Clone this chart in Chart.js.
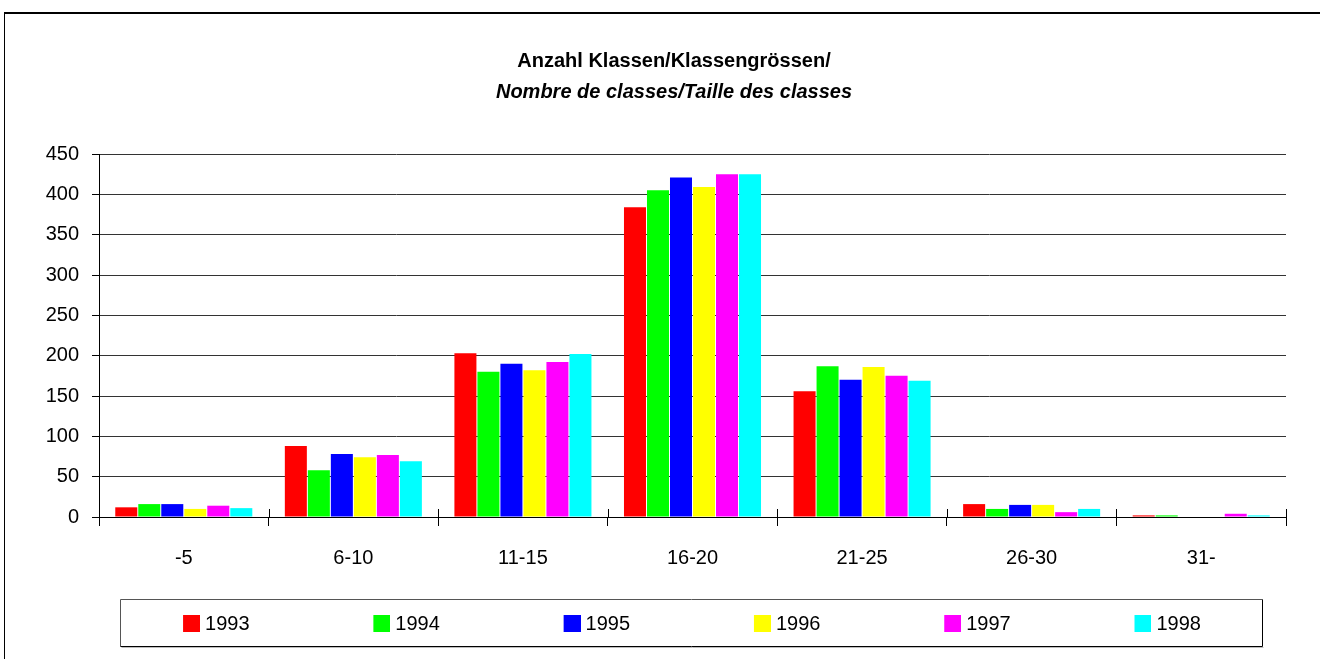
<!DOCTYPE html>
<html>
<head>
<meta charset="utf-8">
<script src="https://cdn.jsdelivr.net/npm/chart.js@4/dist/chart.umd.min.js"></script>
<style>
  html, body { margin: 0; padding: 0; background: #fff; overflow: hidden; }
  #wrap { position: relative; width: 1320px; height: 659px; }
  #frame { position: absolute; left: 4px; top: 12px; width: 1330px; height: 660px;
           border-top: 2px solid #000; border-left: 1px solid #000; box-sizing: border-box; }
  #c { position: absolute; left: 0; top: 0; }
</style>
</head>
<body>
<div id="wrap">
  <div id="frame"></div>
  <canvas id="c" width="1320" height="659"></canvas>
</div>
<script>
// ---- data ----
const categories = ['-5', '6-10', '11-15', '16-20', '21-25', '26-30', '31-'];
const seriesNames = ['1993', '1994', '1995', '1996', '1997', '1998'];
const v1993 = [12, 88, 203, 384, 156, 16, 2];
const v1994 = [16, 58, 180, 405, 187, 10, 2];
const v1995 = [16, 78, 190, 421, 170, 15, 0];
const v1996 = [10, 74, 182, 409, 186, 15, 0];
const v1997 = [14, 77, 192, 425, 175, 6, 4];
const v1998 = [11, 69, 202, 425, 169, 10, 2];
const seriesColors = ['#FF0000', '#00FF00', '#0000FF', '#FFFF00', '#FF00FF', '#00FFFF'];
const yMin = 0, yMax = 450, yStep = 50;
const titleLine1 = 'Anzahl Klassen/Klassengrössen/';
const titleLine2 = 'Nombre de classes/Taille des classes';

const FONT = "'Liberation Sans', Arial, Helvetica, sans-serif";
const seriesValues = [v1993, v1994, v1995, v1996, v1997, v1998];

const SW_W = 48; // legend pointStyleWidth
function makeSwatch(color) {
  const c = document.createElement('canvas');
  c.width = SW_W + 10; c.height = 18;
  const g = c.getContext('2d');
  g.fillStyle = color;
  g.fillRect(c.width - 17, 0, 17, 17);
  return c;
}
const swatches = seriesColors.map(makeSwatch);

const legendFrame = {
  id: 'legendFrame',
  afterDraw(chart) {
    const ctx = chart.ctx;
    // upward part of the x-axis category tick marks
    const xs = chart.scales.x;
    const n = chart.data.labels.length;
    ctx.save();
    ctx.lineWidth = 1;
    ctx.strokeStyle = '#000';
    for (let i = 0; i <= n; i++) {
      const px = Math.round(xs.left + i * (xs.width / n)) + 0.5;
      ctx.beginPath(); ctx.moveTo(px, xs.top - 8); ctx.lineTo(px, xs.top); ctx.stroke();
    }
    ctx.restore();

    const lg = chart.legend;
    if (!lg || !lg.legendHitBoxes || !lg.legendHitBoxes.length) return;
    const hb = lg.legendHitBoxes;
    const first = hb[0], last = hb[hb.length - 1];
    const l = Math.round(first.left - 27) + 0.5;
    const r = Math.round(last.left + last.width + 61) + 0.5;
    const t = Math.round(first.top - 15) + 0.5;
    const b = Math.round(first.top + 32) + 0.5;
    ctx.save();
    ctx.lineWidth = 1;
    ctx.strokeStyle = '#bdbdbd';
    ctx.beginPath(); ctx.moveTo(l + 1, b + 1); ctx.lineTo(r + 1, b + 1); ctx.stroke();
    ctx.strokeStyle = '#555';
    ctx.beginPath(); ctx.moveTo(l, b); ctx.lineTo(l, t); ctx.lineTo(r, t); ctx.stroke();
    ctx.strokeStyle = '#000';
    ctx.beginPath(); ctx.moveTo(r, t); ctx.lineTo(r, b); ctx.lineTo(l, b); ctx.stroke();
    ctx.restore();
  }
};

new Chart(document.getElementById('c'), {
  type: 'bar',
  data: {
    labels: categories,
    datasets: seriesNames.map((n, i) => ({
      label: n,
      data: seriesValues[i],
      backgroundColor: seriesColors[i],
      borderWidth: 0,
      categoryPercentage: 0.814,
      barPercentage: 0.957
    }))
  },
  options: {
    responsive: false,
    devicePixelRatio: 1,
    animation: false,
    layout: { padding: { left: 28, right: 0, top: 0, bottom: 15 } },
    plugins: {
      tooltip: { enabled: false },
      title: {
        display: true, text: titleLine1, color: '#000',
        font: { family: FONT, size: 20, weight: 'bold', lineHeight: 1.2 },
        padding: { top: 49, bottom: 0 }
      },
      subtitle: {
        display: true, text: titleLine2, color: '#000',
        font: { family: FONT, size: 20, weight: 'bold', style: 'italic', lineHeight: 1.2 },
        padding: { top: 7, bottom: 50 }
      },
      legend: {
        display: true, position: 'bottom', align: 'center',
        labels: {
          color: '#000',
          font: { family: FONT, size: 20 },
          usePointStyle: true,
          pointStyleWidth: SW_W,
          padding: 87.8,
          generateLabels(chart) {
            const items = Chart.defaults.plugins.legend.labels.generateLabels(chart);
            items.forEach((it, i) => { it.pointStyle = swatches[i]; });
            return items;
          }
        }
      }
    },
    scales: {
      x: {
        afterFit(s) { s.height = 9.2; },
        grid: { display: true, drawOnChartArea: false, drawTicks: true, tickLength: 9, color: '#000', offset: true },
        border: { display: true, color: '#000', width: 1 },
        ticks: { color: '#000', mirror: true, padding: -53, font: { family: FONT, size: 20 }, maxRotation: 0 }
      },
      y: {
        min: yMin, max: yMax,
        afterFit(s) { s.width = 71; },
        grid: { color: '#333', tickColor: '#000', tickLength: 7, drawTicks: true },
        border: { display: true, color: '#000', width: 1 },
        ticks: { stepSize: yStep, color: '#000', padding: 13, font: { family: FONT, size: 20 } }
      },
      yRight: {
        type: 'linear', position: 'right', display: true,
        afterFit(s) { s.width = 34; },
        grid: { display: false },
        border: { display: false },
        ticks: { display: false }
      }
    }
  },
  plugins: [legendFrame]
});
</script>
</body>
</html>
